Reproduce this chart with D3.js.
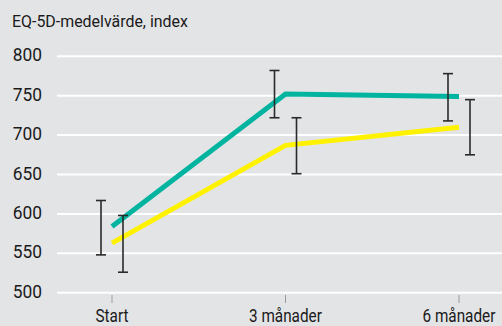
<!DOCTYPE html>
<html><head><meta charset="utf-8">
<script src="https://cdn.jsdelivr.net/npm/d3@7"></script>
<style>
html,body{margin:0;padding:0;background:#e3e4e6;}
svg{display:block;}
text{font-family:"Roboto","Liberation Sans",sans-serif;fill:#1a1a1a;}
</style></head>
<body>
<script>
const categories = ["Start", "3 månader", "6 månader"];
const yTicks = [500, 550, 600, 650, 700, 750, 800];
const tealValues = [584, 752, 749];
const tealLow = [548, 722, 718];
const tealHigh = [617, 782, 778];
const yellowValues = [563, 687, 710];
const yellowLow = [526, 651, 675];
const yellowHigh = [598, 722, 745];
const titleText = "EQ-5D-medelvärde, index";

const W = 502, H = 326;
const svg = d3.select("body").append("svg").attr("width", W).attr("height", H);
svg.append("rect").attr("width", W).attr("height", H).attr("fill", "#e3e4e6");

const x = d3.scalePoint().domain(categories).range([112, 459]);
const y = d3.scaleLinear().domain([500, 800]).range([292.7, 56.3]);

// place a horizontally condensed label at (px, py); anchor: 0 start, 0.5 middle, 1 end
function label(parent, txt, px, py, size, f, anchor) {
  const t = parent.append("text").attr("font-size", size).text(txt);
  const w = t.node().getComputedTextLength();
  const x0 = px - anchor * w * f;
  t.attr("transform", `translate(${x0},${py}) scale(${f},1)`);
  return t;
}

const tmp = svg.append("text").attr("font-size", 17).text(titleText);
const titleF = 176 / tmp.node().getComputedTextLength();
tmp.remove();
label(svg, titleText, 12, 27, 17, titleF, 0);

// grid
svg.append("g").selectAll("line").data(yTicks).join("line")
  .attr("x1", 57).attr("x2", W)
  .attr("y1", d => y(d)).attr("y2", d => y(d))
  .attr("stroke", "#ffffff").attr("stroke-width", 2);

const yg = svg.append("g");
yTicks.forEach(d => label(yg, String(d), 42, y(d) + 5, 18.3, 0.95, 1));

// x axis ticks
const xa = svg.append("g");
xa.selectAll("line").data(categories).join("line")
  .attr("x1", d => x(d)).attr("x2", d => x(d))
  .attr("y1", 295).attr("y2", 303)
  .attr("stroke", "#9a9a9a").attr("stroke-width", 1);
categories.forEach(c => label(xa, c, x(c), 321.5, 18, 0.85, 0.5));

const line = d3.line().x(d => x(d.c)).y(d => y(d.v));
function series(vals, color) {
  svg.append("path")
    .datum(categories.map((c, i) => ({c, v: vals[i]})))
    .attr("d", line).attr("fill", "none")
    .attr("stroke", color).attr("stroke-width", 5);
}
series(tealValues, "#00b4a0");
series(yellowValues, "#fff200");

function errs(lo, hi, off) {
  const g = svg.append("g").attr("stroke", "#2a2a2a").attr("stroke-width", 1.6);
  categories.forEach((c, i) => {
    const cx = x(c) + off;
    g.append("line").attr("x1", cx).attr("x2", cx).attr("y1", y(hi[i])).attr("y2", y(lo[i]));
    g.append("line").attr("x1", cx - 5).attr("x2", cx + 5).attr("y1", y(hi[i])).attr("y2", y(hi[i]));
    g.append("line").attr("x1", cx - 5).attr("x2", cx + 5).attr("y1", y(lo[i])).attr("y2", y(lo[i]));
  });
}
errs(tealLow, tealHigh, -11);
errs(yellowLow, yellowHigh, 11);
</script>
</body></html>
